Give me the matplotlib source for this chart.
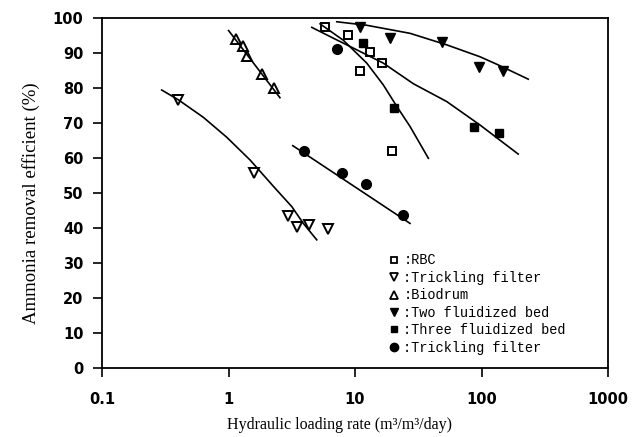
import numpy as np
import matplotlib.pyplot as plt
from matplotlib.lines import Line2D

# data (x: m3/m3/day, y: %)
rbc_x = [5.8, 8.85, 13.1, 16.3, 10.95, 19.5]
rbc_y = [97.5, 95.1, 90.2, 87.1, 84.9, 62.0]

trick_x = [0.40, 1.60, 2.97, 3.46, 4.35, 6.08]
trick_y = [76.6, 55.6, 43.5, 40.4, 40.9, 39.7]

bio_x = [1.15, 1.29, 1.39, 1.83, 2.29]
bio_y = [93.9, 92.0, 89.1, 84.0, 79.9]

two_x = [10.95, 18.9, 48.4, 96.1, 147]
two_y = [97.5, 94.2, 93.2, 86.1, 84.9]

three_x = [11.5, 20.5, 87.7, 137]
three_y = [92.8, 74.4, 68.9, 67.1]

trick2_x = [7.17, 3.97, 7.85, 12.2, 23.8]
trick2_y = [91.1, 62.0, 55.8, 52.6, 43.7]

# fitted curves
rbc_fit_x = [5.29, 8.09, 12.37, 16.7, 21.4, 27.2, 38.0]
rbc_fit_y = [98.3, 93.6, 87.1, 80.9, 74.7, 69.0, 59.9]
trick_fit_x = [0.296, 0.401, 0.632, 0.968, 1.48, 2.26, 3.16, 3.90, 4.98]
trick_fit_y = [79.4, 76.6, 71.6, 65.9, 59.4, 51.9, 46.1, 41.3, 36.6]
bio_fit_x = [1.0, 2.55]
bio_fit_y = [96.4, 77.2]
two_fit_x = [7.17, 12.37, 27.2, 53.1, 97.3, 137, 234]
two_fit_y = [98.9, 97.9, 95.6, 92.3, 88.9, 86.5, 82.5]
three_fit_x = [4.55, 6.74, 10.3, 16.7, 28.9, 53.1, 97.3, 195]
three_fit_y = [97.3, 94.2, 90.9, 87.1, 81.2, 76.1, 69.4, 61.1]
trick2_fit_x = [3.22, 27.2]
trick2_fit_y = [63.5, 41.3]

labels = [":RBC", ":Trickling filter", ":Biodrum", ":Two fluidized bed",
          ":Three fluidized bed", ":Trickling filter"]

fig = plt.figure(figsize=(6.38, 4.37), dpi=100)
ax = fig.add_axes([0.16, 0.158, 0.793, 0.801])

ms = 6
ax.plot(rbc_x, rbc_y, 's', ms=ms, mfc='white', mec='black', mew=1.4)
ax.plot(trick_x, trick_y, 'v', ms=ms + 1, mfc='white', mec='black', mew=1.4)
ax.plot(bio_x, bio_y, '^', ms=ms + 1, mfc='white', mec='black', mew=1.4)
ax.plot(two_x, two_y, 'v', ms=ms + 1, color='black')
ax.plot(three_x, three_y, 's', ms=ms, color='black')
ax.plot(trick2_x, trick2_y, 'o', ms=ms + 1, color='black')

for fx, fy in [(rbc_fit_x, rbc_fit_y), (trick_fit_x, trick_fit_y),
               (bio_fit_x, bio_fit_y), (two_fit_x, two_fit_y),
               (three_fit_x, three_fit_y), (trick2_fit_x, trick2_fit_y)]:
    ax.plot(fx, fy, '-', color='black', lw=1.2)

ax.set_xscale('log')
ax.set_xlim(0.1, 1000)
ax.set_ylim(0, 100)
ax.set_xticks([0.1, 1, 10, 100, 1000])
ax.set_xticklabels(['0.1', '1', '10', '100', '1000'])
ax.set_yticks(range(0, 101, 10))
ax.minorticks_off()
ax.tick_params(direction='out', length=6.5, width=1.2, labelsize=10.5)
ax.tick_params(axis='x', pad=11)
ax.tick_params(axis='y', pad=7)
for lab in ax.get_xticklabels() + ax.get_yticklabels():
    lab.set_fontweight('bold')
for s in ax.spines.values():
    s.set_linewidth(1.3)

ax.set_xlabel('Hydraulic loading rate (m³/m³/day)', family='Liberation Serif',
              fontsize=11.5)
ax.set_ylabel('Ammonia removal efficient (%)', family='Liberation Serif',
              fontsize=13.5)
ax.xaxis.set_label_coords(0.469, -0.14)
ax.yaxis.set_label_coords(-0.122, 0.47)

handles = [
    Line2D([], [], ls='', marker='s', ms=5, mfc='white', mec='black', mew=1.3),
    Line2D([], [], ls='', marker='v', ms=6, mfc='white', mec='black', mew=1.3),
    Line2D([], [], ls='', marker='^', ms=6, mfc='white', mec='black', mew=1.3),
    Line2D([], [], ls='', marker='v', ms=6, color='black'),
    Line2D([], [], ls='', marker='s', ms=5, color='black'),
    Line2D([], [], ls='', marker='o', ms=6, color='black'),
]
ax.legend(handles, labels, loc='upper left', bbox_to_anchor=(0.566, 0.327),
          frameon=False, prop={'family': 'Liberation Mono', 'size': 9.8},
          handlelength=0.8, handletextpad=0.3, labelspacing=0.25,
          borderpad=0, borderaxespad=0)

fig.savefig('out.png', dpi=100)
